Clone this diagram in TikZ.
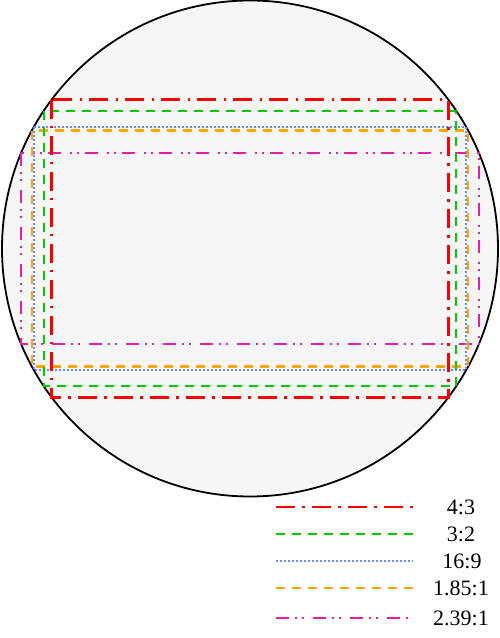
\documentclass[tikz,border=0pt]{standalone}
\usepackage{fontspec}
\setmainfont{Liberation Serif}
\definecolor{cred}{RGB}{255,0,0}
\definecolor{cgreen}{RGB}{0,204,0}
\definecolor{cblue}{RGB}{100,140,255}
\definecolor{corange}{RGB}{255,165,0}
\definecolor{cmag}{RGB}{230,30,170}
\definecolor{cfill}{RGB}{246,246,246}
\begin{document}
\begin{tikzpicture}[x=1pt,y=1pt,
  ratioA/.style={cred,line width=2.5pt,dash pattern=on 19pt off 7pt on 2.5pt off 7.5pt},
  ratioB/.style={cgreen,line width=2.3pt,dash pattern=on 9pt off 7pt},
  ratioC/.style={cblue,line width=2pt,dash pattern=on 2pt off 2pt},
  ratioD/.style={corange,line width=2.3pt,dash pattern=on 9pt off 7pt},
  ratioE/.style={cmag,line width=2pt,dash pattern=on 13pt off 6pt on 2pt off 5pt on 2pt off 9pt},
  lab/.style={font=\fontsize{22}{26}\selectfont,anchor=center}]
\useasboundingbox (0,0) rectangle (500,638);
\node[circle,draw=black,line width=1.8pt,fill=cfill,minimum size=496pt,inner sep=0pt] (disc) at (250,389.5) {};
% rectangles (inscribed in circle)
\draw[ratioE] (21.3,485.2) rectangle (478.7,293.8);
\draw[ratioD] (31.9,507.4) rectangle (468.1,271.6);
\draw[ratioC] (33.9,511.0) rectangle (466.1,268.0);
\draw[ratioB] (43.7,527.0) rectangle (456.3,252.0);
\draw[ratioA] (51.6,538.3) rectangle (448.4,240.7);
% legend
\coordinate (a1) at (276,131); \coordinate (a2) at (413,131);
\coordinate (b1) at (276,104); \coordinate (b2) at (413,104);
\coordinate (c1) at (276,77);  \coordinate (c2) at (413,77);
\coordinate (d1) at (276,50);  \coordinate (d2) at (413,50);
\coordinate (e1) at (276,20);  \coordinate (e2) at (413,20);
\draw[ratioA,line width=2pt] (a1) -- (a2);
\draw[ratioB,line width=2pt] (b1) -- (b2);
\draw[ratioC,line width=1.6pt] (c1) -- (c2);
\draw[ratioD,line width=2pt] (d1) -- (d2);
\draw[ratioE,line width=1.6pt] (e1) -- (e2);
\node[lab] (la) at (461,131) {4:3};
\node[lab] (lb) at (461,104) {3:2};
\node[lab] (lc) at (462,77) {16:9};
\node[lab] (ld) at (461,50) {1.85:1};
\node[lab] (le) at (461,20) {2.39:1};
\end{tikzpicture}
\end{document}
